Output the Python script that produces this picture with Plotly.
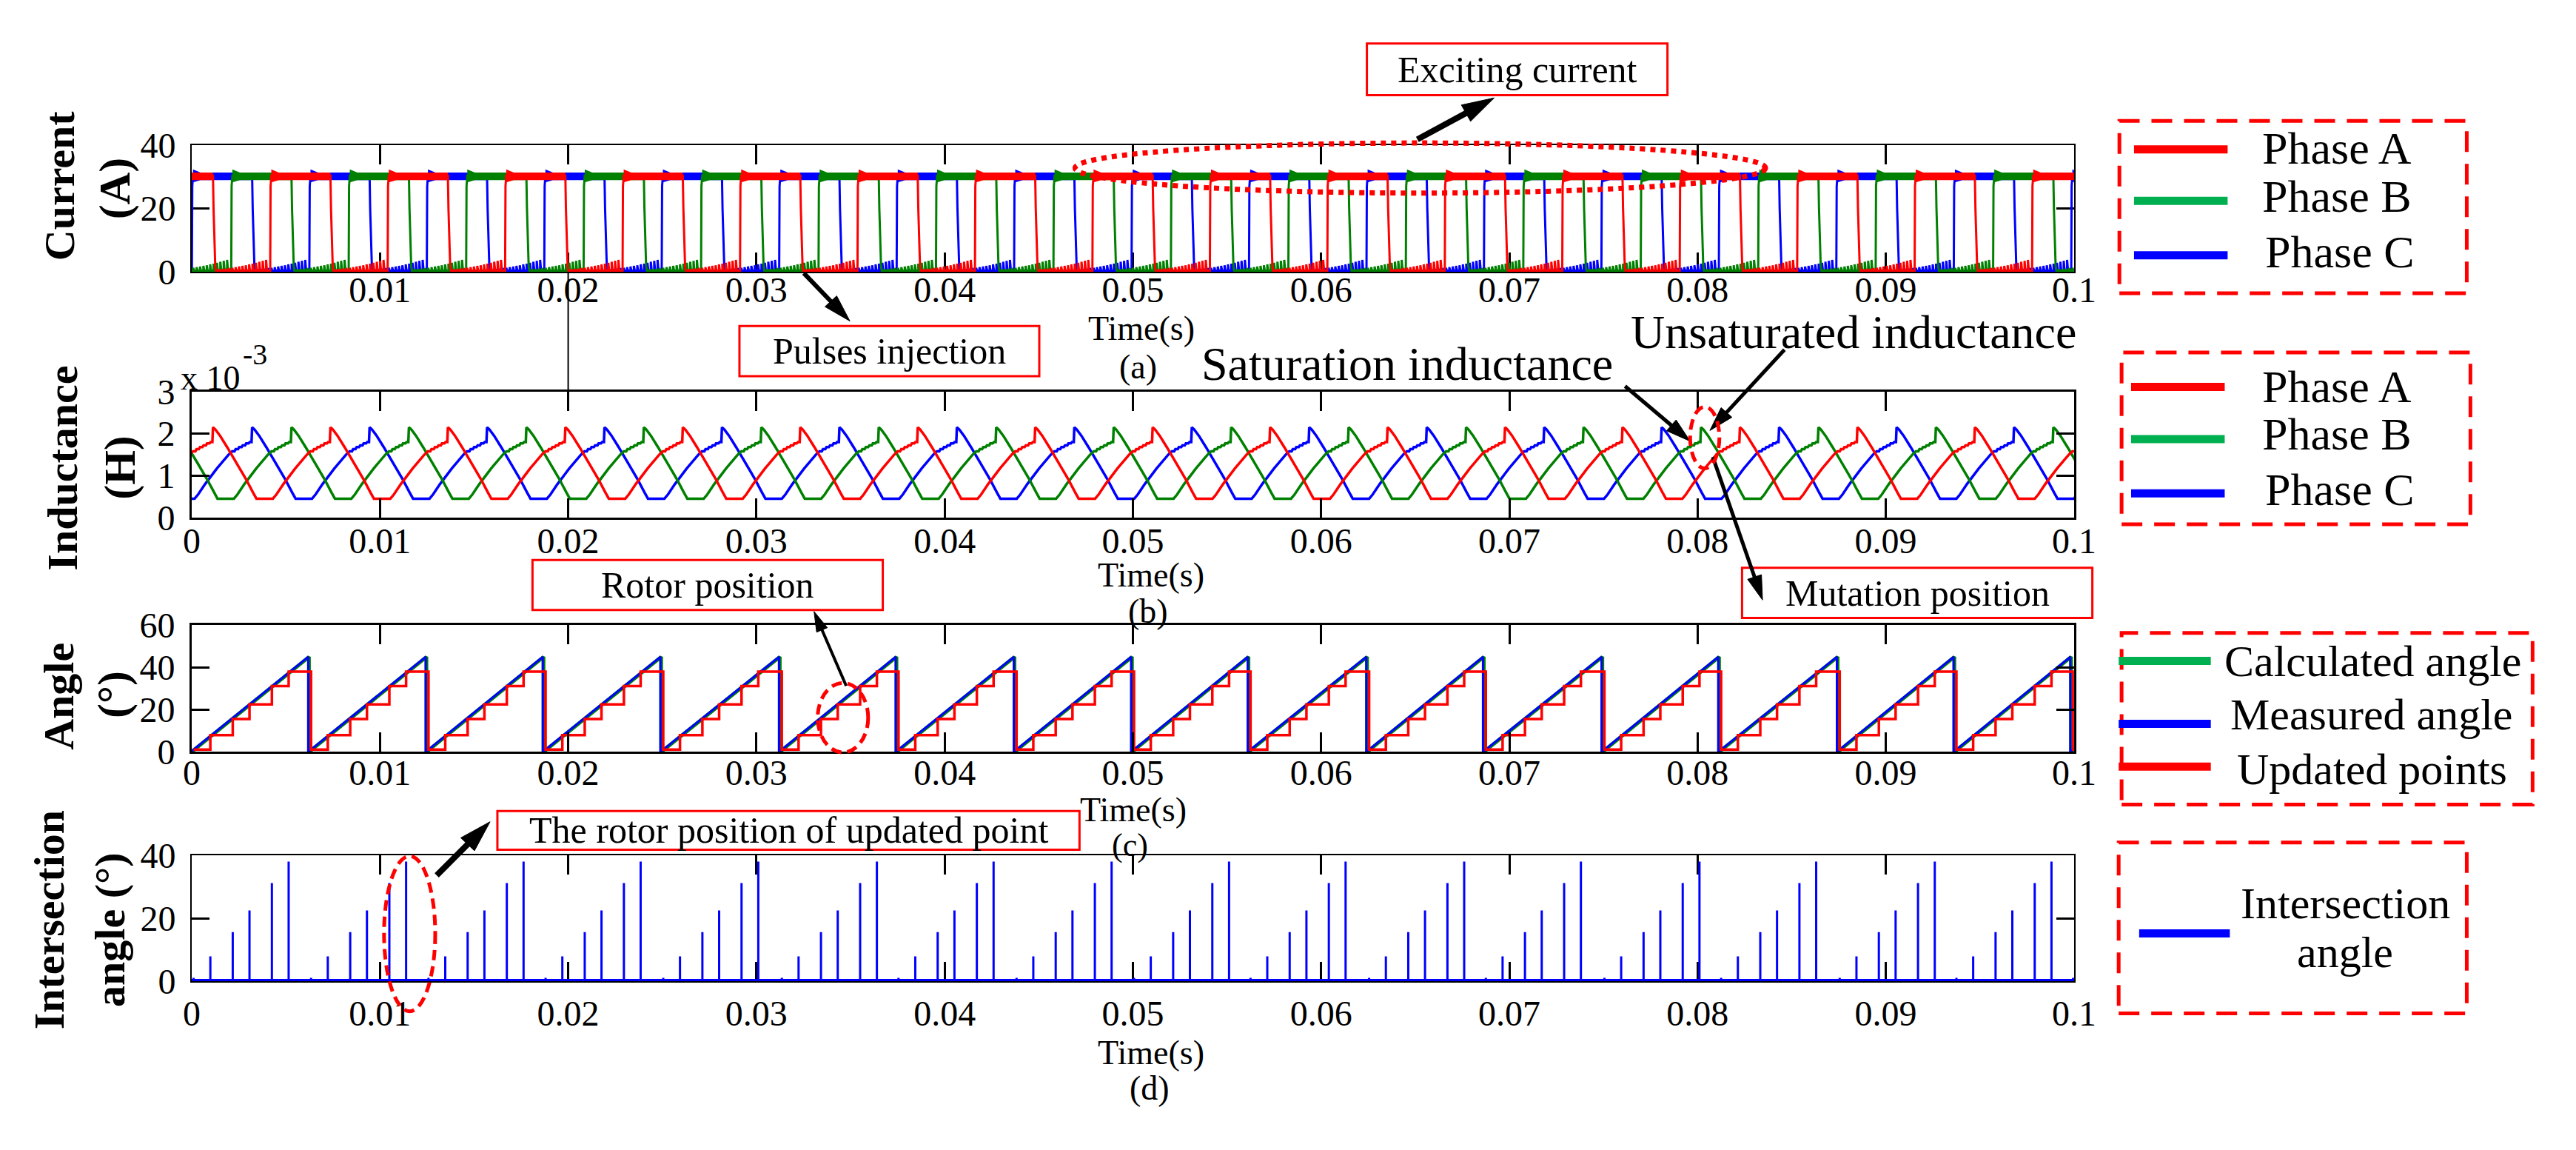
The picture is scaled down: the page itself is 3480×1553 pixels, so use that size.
import math
import plotly.graph_objects as go

W, H = 3480, 1553
SERIF = "Liberation Serif, Times New Roman, serif"
RED, GREEN, BLUE = "#FF0000", "#008000", "#0000FF"
LEG_GREEN = "#00B050"

# ======================= values =======================
time_span = [0.0, 0.1]
x_tick_vals = [0.0, 0.01, 0.02, 0.03, 0.04, 0.05, 0.06, 0.07, 0.08, 0.09, 0.1]
x_tick_text = ["0", "0.01", "0.02", "0.03", "0.04", "0.05", "0.06", "0.07", "0.08", "0.09", "0.1"]

# (a) phase currents
phase_names = ["Phase A", "Phase B", "Phase C"]
phase_delays = [0.0, 0.00417, 0.00208]          # s, delay of each phase after phase A
phaseA_turn_off = [-0.00511, 0.00113, 0.00737, 0.01361, 0.01985, 0.02609, 0.03233,
                   0.03857, 0.04481, 0.05105, 0.05729, 0.06353, 0.06977, 0.07601,
                   0.08225, 0.08849, 0.09473, 0.10097]   # s (also the inductance jumps)
conduction_time = 0.0032
rise_dt = [0.0, 0.00002, 0.00006]
rise_current = [0.4, 27.0, 30.3]
fall_dt = [0.0, 0.00003, 0.00012, 0.00016]
fall_current = [30.3, 20.0, 2.0, 0.4]
chop_band = [28.9, 31.3]
start_band = [28.2, 32.3]
start_band_dt = 0.0004
off_current = 0.4
pulse_dt = [0.00030, 0.00048, 0.00066, 0.00084, 0.00102, 0.00120, 0.00138, 0.00156,
            0.00174, 0.00192, 0.00210, 0.00228, 0.00246, 0.00264, 0.00282]
pulse_current = [0.8, 0.9, 1.0, 1.2, 1.3, 1.5, 1.7, 1.9, 2.1, 2.4, 2.6, 2.9, 3.2, 3.5, 3.8]
pulse_width_dt = 0.00005

# (b) inductance, one period after each jump (fraction of period, mH)
ind_phase = [0.0, 0.02, 0.06, 0.12, 0.20, 0.28, 0.34, 0.37, 0.51, 0.54, 0.60, 0.70,
             0.80, 0.82, 0.83, 0.85, 0.86, 0.88, 0.89, 0.91, 0.92, 0.94, 0.95, 0.97, 0.98, 0.995]
ind_value_mH = [2.15, 2.10, 1.95, 1.68, 1.30, 0.92, 0.60, 0.45, 0.45, 0.55, 0.80, 1.17,
                1.50, 1.55, 1.58, 1.58, 1.63, 1.63, 1.68, 1.68, 1.72, 1.72, 1.77, 1.77, 1.80, 1.80]

# (c)/(d) rotor angle
angle_resets = [-0.00005, 0.00619, 0.01243, 0.01865, 0.0249, 0.0312, 0.0374, 0.04367,
                0.04991, 0.0561, 0.0624, 0.0686, 0.0749, 0.0811, 0.0874, 0.0936, 0.0998, 0.10622]
angle_span = [0.0, 45.0]
calc_lag = 0.00004
update_dt = [0.00015, 0.00104, 0.00223, 0.00312, 0.00431, 0.0052]
update_angle = [1.1, 7.9, 15.6, 22.5, 31.2, 38.0]

# ======================= build series =======================
COL = {"Phase A": RED, "Phase B": GREEN, "Phase C": BLUE}
draw_order = ["Phase C", "Phase B", "Phase A"]


def phase_offs(name):
    d = phase_delays[phase_names.index(name)]
    return [o + d for o in phaseA_turn_off]


def current_wave(offs):
    x, y = [], []
    for off in offs:
        on = off - conduction_time
        for dt, v in zip(rise_dt, rise_current):
            x.append(on + dt); y.append(v)
        for dt, v in zip(fall_dt, fall_current):
            x.append(off + dt); y.append(v)
        for dt, v in zip(pulse_dt, pulse_current):
            t = off + dt
            x += [t, t, t + pulse_width_dt]
            y += [off_current, v, off_current]
    return x, y


def current_band(offs):
    x, y = [], []
    for off in offs:
        on = off - conduction_time + rise_dt[-1]
        x += [on, on, on + start_band_dt, off, off, on + start_band_dt, on, None]
        y += [start_band[0], start_band[1], chop_band[1], chop_band[1],
              chop_band[0], chop_band[0], start_band[0], None]
    return x, y


def inductance_wave(jumps):
    x, y = [], []
    for k in range(len(jumps) - 1):
        j0, j1 = jumps[k], jumps[k + 1]
        for f, v in zip(ind_phase, ind_value_mH):
            x.append(j0 + f * (j1 - j0)); y.append(v * 1e-3)
    return x, y


fig = go.Figure()

for name in draw_order:
    offs = phase_offs(name)
    bx, by = current_band(offs)
    fig.add_trace(go.Scatter(x=bx, y=by, mode="lines", fill="toself", fillcolor=COL[name],
                             line=dict(width=0, color=COL[name]), xaxis="x", yaxis="y"))
    cx, cy = current_wave(offs)
    fig.add_trace(go.Scatter(x=cx, y=cy, mode="lines", line=dict(width=3, color=COL[name]),
                             xaxis="x", yaxis="y"))

for name in draw_order:
    ix, iy = inductance_wave(phase_offs(name))
    fig.add_trace(go.Scatter(x=ix, y=iy, mode="lines", line=dict(width=3.5, color=COL[name]),
                             xaxis="x2", yaxis="y2"))

mx, my, gx, gy = [], [], [], []
for k in range(len(angle_resets) - 1):
    mx += [angle_resets[k], angle_resets[k + 1]]
    my += [angle_span[0], angle_span[1]]
    gx += [angle_resets[k] + calc_lag, angle_resets[k + 1] + calc_lag]
    gy += [angle_span[0], angle_span[1]]

ev_t, ev_a = [], []
for r in angle_resets[:-1]:
    for dt, a in zip(update_dt, update_angle):
        ev_t.append(r + dt); ev_a.append(a)

fig.add_trace(go.Scatter(x=gx, y=gy, mode="lines", line=dict(width=5, color=GREEN),
                         xaxis="x3", yaxis="y3"))
fig.add_trace(go.Scatter(x=mx, y=my, mode="lines", line=dict(width=3, color=BLUE),
                         xaxis="x3", yaxis="y3"))
fig.add_trace(go.Scatter(x=ev_t, y=ev_a, mode="lines", line=dict(width=3.5, color=RED, shape="hv"),
                         xaxis="x3", yaxis="y3"))

sx, sy = [], []
for t, a in zip(ev_t, ev_a):
    sx += [t, t, t]; sy += [0, a, 0]
fig.add_trace(go.Scatter(x=sx, y=sy, mode="lines", line=dict(width=3, color=BLUE),
                         xaxis="x4", yaxis="y4"))
fig.add_trace(go.Scatter(x=time_span, y=[0, 0], mode="lines", line=dict(width=6, color=BLUE),
                         xaxis="x4", yaxis="y4"))

# ======================= layout =======================
XL, XR = 250, 2824


def ydom(top, bot):
    return [1 - bot / H, 1 - top / H]


tickfont = dict(family=SERIF, size=48, color="black")


def xaxis(anchor, lw, standoff, show_zero=True, layer="above traces"):
    vals = x_tick_vals if show_zero else x_tick_vals[1:]
    txt = x_tick_text if show_zero else x_tick_text[1:]
    return dict(domain=[XL / W, XR / W], anchor=anchor, range=time_span, showline=True,
                linecolor="black", linewidth=lw, mirror="ticks", ticks="inside", ticklen=26,
                tickwidth=3, tickcolor="black", showgrid=False, zeroline=False,
                tickvals=vals, ticktext=txt, tickfont=tickfont, ticklabelstandoff=standoff,
                layer=layer)


def yaxis(anchor, dom, rng, vals, txt, lw, layer="above traces"):
    return dict(domain=dom, anchor=anchor, range=rng, showline=True, linecolor="black",
                linewidth=lw, mirror="ticks", ticks="inside", ticklen=24, tickwidth=3,
                tickcolor="black", showgrid=False, zeroline=False, tickvals=vals,
                ticktext=txt, tickfont=tickfont, ticklabelstandoff=10, layer=layer)


fig.update_layout(
    width=W, height=H, margin=dict(l=0, r=0, t=0, b=0),
    paper_bgcolor="white", plot_bgcolor="white", showlegend=False, hovermode=False,
    xaxis=xaxis("y", 2, -19, show_zero=False, layer="below traces"),
    yaxis=yaxis("x", ydom(175.7, 353.3), [0, 40], [0, 20, 40], ["0", "20", "40"], 2,
                layer="below traces"),
    xaxis2=xaxis("y2", 3, -13),
    yaxis2=yaxis("x2", ydom(520.7, 696.7), [0, 0.003], [0, 0.001, 0.002, 0.003],
                 ["0", "1", "2", "3"], 3),
    xaxis3=xaxis("y3", 3, -16),
    yaxis3=yaxis("x3", ydom(847.3, 1024.3), [0, 60], [0, 20, 40, 60],
                 ["0", "20", "40", "60"], 3),
    xaxis4=xaxis("y4", 2, 0, layer="below traces"),
    yaxis4=yaxis("x4", ydom(1169, 1345), [0, 40], [0, 20, 40], ["0", "20", "40"], 2,
                 layer="below traces"),
)

ann = []
shapes = []


def P(x, y):
    return x / W, 1 - y / H


def txt(text, x, y, size, bold=False, xanchor="center", angle=0):
    px, py = P(x, y)
    ann.append(dict(text=("<b>%s</b>" % text) if bold else text, x=px, y=py,
                    xref="paper", yref="paper", showarrow=False, xanchor=xanchor,
                    yanchor="middle", textangle=angle,
                    font=dict(family=SERIF, size=size, color="black")))


def arrow(tail, head, width, hl, hw):
    dx, dy = head[0] - tail[0], head[1] - tail[1]
    L = math.hypot(dx, dy)
    ux, uy = dx / L, dy / L
    bx, by = head[0] - ux * hl, head[1] - uy * hl
    nx, ny = -uy, ux
    x0, y0 = P(*tail)
    x1, y1 = P(bx + ux * 3, by + uy * 3)
    shapes.append(dict(type="line", xref="paper", yref="paper", x0=x0, y0=y0, x1=x1, y1=y1,
                       line=dict(color="black", width=width)))
    pts = [head, (bx + nx * hw / 2, by + ny * hw / 2), (bx - nx * hw / 2, by - ny * hw / 2)]
    pp = [P(*p) for p in pts]
    path = "M %f %f L %f %f L %f %f Z" % (pp[0][0], pp[0][1], pp[1][0], pp[1][1], pp[2][0], pp[2][1])
    shapes.append(dict(type="path", xref="paper", yref="paper", path=path,
                       fillcolor="black", line=dict(color="black", width=1)))


# y-axis titles
txt("Current", 69, 233, 58, bold=True, angle=-90)
txt("(A)", 145, 237, 60, bold=True, angle=-90)
txt("Inductance", 73, 628, 58, bold=True, angle=-90)
txt("(H)", 151, 627, 60, bold=True, angle=-90)
txt("Angle", 69, 947, 58, bold=True, angle=-90)
txt("(°)", 143, 944, 60, bold=True, angle=-90)
txt("Intersection", 55, 1259, 58, bold=True, angle=-90)
txt("angle (°)", 138, 1273, 58, bold=True, angle=-90)

# exponent of (b)
txt("x 10", 276, 502, 46)
txt("-3", 337, 468, 40)

# x titles
for tt, cap, yt, yc, xt, xc, cs in [("Time(s)", "(a)", 432, 486, 1549, 1544, 46),
                                    ("Time(s)", "(b)", 777, 828, 1562, 1558, 46),
                                    ("Time(s)", "(c)", 1105, 1155, 1538, 1533, 44),
                                    ("Time(s)", "(d)", 1445, 1495, 1562, 1560, 46)]:
    txt(tt, xt, yt, 46)
    txt(cap, xc, yc, cs)

# big labels
txt("Saturation inductance", 1912, 482, 64)
txt("Unsaturated inductance", 2522, 437, 64)

# boxed labels
boxes = [("Exciting current", (1857, 34, 2268, 106)),
         ("Pulses injection", (999, 429, 1409, 499)),
         ("Rotor position", (716, 756, 1195, 826)),
         ("Mutation position", (2370, 767, 2849, 837)),
         ("The rotor position of updated point", (668, 1107, 1464, 1161))]
for label, (x0, y0, x1, y1) in boxes:
    shapes.append(dict(type="rect", xref="paper", yref="paper", x0=x0 / W, x1=x1 / W,
                       y0=1 - y1 / H, y1=1 - y0 / H, line=dict(color=RED, width=3),
                       fillcolor="white"))
    txt(label, (x0 + x1) / 2, (y0 + y1) / 2, 50)

# arrows (tail, head)
arrow((1926, 168), (2031, 110), 8, 44, 26)
arrow((1087, 355), (1150, 422), 6, 38, 22)
arrow((2210, 513), (2299, 590), 5, 34, 20)
arrow((2428, 462), (2326, 575), 5, 34, 20)
arrow((2330, 612), (2398, 812), 5, 34, 20)
arrow((1145, 932), (1101, 828), 4, 28, 16)
arrow((585, 1197), (658, 1122), 8, 44, 26)


def ellipse(x0, y0, x1, y1, dash, width):
    shapes.append(dict(type="circle", xref="paper", yref="paper", x0=x0 / W, x1=x1 / W,
                       y0=1 - y1 / H, y1=1 - y0 / H, line=dict(color=RED, width=width, dash=dash)))


ellipse(1458, 173, 2402, 243, "dot", 7)
ellipse(2299, 542, 2339, 628, "14px,8px", 5)
ellipse(1106, 928, 1175, 1025, "14px,8px", 5)
ellipse(513, 1170, 583, 1387, "14px,8px", 5)

# stray vertical line between (a) and (b) at t = 0.02
shapes.append(dict(type="line", xref="x", yref="paper", x0=x_tick_vals[2], x1=x_tick_vals[2],
                   y0=1 - 521 / H, y1=1 - 353 / H, line=dict(color="black", width=2)))


def legend_box(x0, y0, x1, y1):
    shapes.append(dict(type="rect", xref="paper", yref="paper", x0=x0 / W, x1=x1 / W,
                       y0=1 - y1 / H, y1=1 - y0 / H,
                       line=dict(color=RED, width=5, dash="28px,16px")))


def legend_line(x0, x1, y, color):
    shapes.append(dict(type="line", xref="paper", yref="paper", x0=x0 / W, x1=x1 / W,
                       y0=1 - y / H, y1=1 - y / H, line=dict(color=color, width=11)))


legend_box(2886, 142, 3361, 383)
for (lab, col, ly, ty, tx) in [("Phase A", RED, 182, 180, 3079), ("Phase B", LEG_GREEN, 254, 247, 3079),
                               ("Phase C", BLUE, 330, 325, 3083)]:
    legend_line(2906, 3034, ly, col)
    txt(lab, tx, ty, 62, xanchor="left")

legend_box(2889, 466, 3366, 706)
for (lab, col, ly, ty, tx) in [("Phase A", RED, 514, 514, 3079), ("Phase B", LEG_GREEN, 587, 580, 3079),
                               ("Phase C", BLUE, 663, 657, 3083)]:
    legend_line(2902, 3030, ly, col)
    txt(lab, tx, ty, 62, xanchor="left")

legend_box(2889, 858, 3451, 1098)
for (lab, col, ly, ty, tx) in [("Calculated angle", LEG_GREEN, 897, 898, 3028),
                               ("Measured angle", BLUE, 985, 972, 3036),
                               ("Updated points", RED, 1045, 1049, 3045)]:
    legend_line(2885, 3011, ly, col)
    txt(lab, tx, ty, 60, xanchor="left")

legend_box(2885, 1151, 3361, 1390)
legend_line(2913, 3037, 1278, BLUE)
txt("Intersection", 3195, 1236, 60)
txt("angle", 3195, 1305, 60)

fig.update_layout(annotations=ann, shapes=shapes)

fig.write_html("out.html", config={"displayModeBar": False},
               post_script="document.body.style.margin='0';document.body.style.overflow='hidden';")
